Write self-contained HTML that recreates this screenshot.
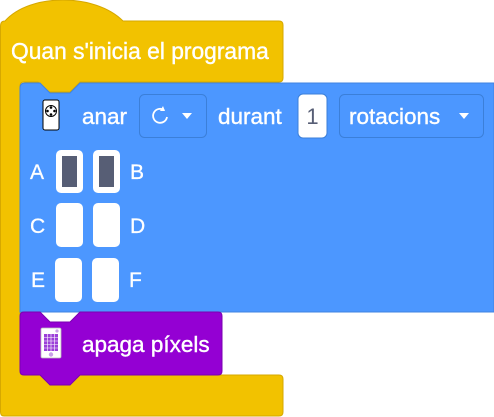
<!DOCTYPE html>
<html><head><meta charset="utf-8"><style>
html,body{margin:0;padding:0;background:#fff;width:494px;height:417px;overflow:hidden}
svg text{font-family:"Liberation Sans",sans-serif}
</style></head><body>
<svg width="494" height="417" viewBox="0 0 494 417" xmlns="http://www.w3.org/2000/svg">
<path d="M0.5 26 Q0.5 21 5 21 C30 -7 95 -7 123 21 L279 21 Q283 21 283 25 L283 78 Q283 82 279 82 L80 82 L70 92 L48 92 L38 82 L24 82 Q20 82 20 86 L20 372 Q20 375 24 375 L279 375 Q283 375 283 379 L283 412 Q283 416 279 416 L4 416 Q0.5 416 0.5 412 Z" fill="#f2c200" stroke="#d6a800" stroke-width="1"/>
<text x="11" y="59" font-size="22.8" fill="#fff" stroke="#fff" stroke-width="0.4">Quan s'inicia el programa</text>
<path d="M20 88 Q20 83 25 83 L40 83 L50 93 L70 93 L80 83 L494 83 L494 312 L20 312 Z" fill="#4c97ff" stroke="#3f83e0" stroke-width="1"/>
<rect x="43" y="100" width="16" height="30" rx="2" fill="#fff" stroke="#000" stroke-width="1"/>
<circle cx="51" cy="111" r="5.5" fill="#fff" stroke="#000" stroke-width="1"/>
<circle cx="51" cy="107.5" r="1.3"/><circle cx="51" cy="114.5" r="1.3"/><circle cx="47.5" cy="111" r="1.3"/><circle cx="54.5" cy="111" r="1.3"/>
<g font-size="22.5" fill="#fff" stroke="#fff" stroke-width="0.4">
<text x="82" y="124">anar</text>
<text x="218" y="124">durant</text>
<text x="349" y="124">rotacions</text>
</g>
<rect x="139.5" y="94.5" width="67" height="43" rx="5" fill="none" stroke="#3b7fd9" stroke-width="1"/>
<path d="M164 110 A7 7 0 1 0 167 117" fill="none" stroke="#fff" stroke-width="1.8"/>
<path d="M163 106 L165 111 L160 111 Z" fill="#fff"/>
<path d="M182 113 L192 113 L187 119 Z" fill="#fff"/>
<rect x="298" y="94" width="29" height="44" rx="5" fill="#fff" stroke="#3b7fd9"/>
<text x="312.5" y="124" font-size="22" fill="#575e75" text-anchor="middle">1</text>
<rect x="339.5" y="94.5" width="144" height="43" rx="5" fill="none" stroke="#3b7fd9" stroke-width="1"/>
<path d="M459 113 L469 113 L464 119 Z" fill="#fff"/>
<g font-size="21" fill="#fff" stroke="#fff" stroke-width="0.3">
<text x="30" y="179">A</text><text x="130" y="179">B</text>
<text x="30" y="233">C</text><text x="130" y="233">D</text>
<text x="31" y="287">E</text><text x="129" y="287">F</text>
</g>
<rect x="56" y="150" width="27" height="43" rx="5" fill="#fff"/>
<rect x="62" y="156" width="15" height="31" fill="#575e75"/>
<rect x="93" y="150" width="27" height="43" rx="5" fill="#fff"/>
<rect x="99" y="156" width="15" height="31" fill="#575e75"/>
<rect x="56" y="203" width="27" height="44" rx="5" fill="#fff"/>
<rect x="93" y="203" width="27" height="44" rx="5" fill="#fff"/>
<rect x="55" y="258" width="27" height="44" rx="5" fill="#fff"/>
<rect x="92" y="258" width="27" height="44" rx="5" fill="#fff"/>
<path d="M20 316 Q20 312 24 312 L40 312 L50 322 L70 322 L80 312 L218 312 Q222 312 222 316 L222 371 Q222 375 218 375 L80 375 L70 385 L50 385 L40 375 L24 375 Q20 375 20 371 Z" fill="#9400d3" stroke="#7a00b0" stroke-width="1"/>
<rect x="41" y="328" width="20" height="30" rx="1.5" fill="#fff" stroke="#bbb" stroke-width="0.8"/>
<rect x="44" y="334" width="14" height="17" fill="#9b3fd8"/>
<g stroke="#fff" stroke-width="0.6"><path d="M44 337.5H58M44 341H58M44 344.5H58M44 348H58M47.5 334V351M51 334V351M54.5 334V351"/></g>
<circle cx="57" cy="331" r="1.6" fill="#c9a0e8"/><circle cx="51" cy="354.5" r="2.2" fill="#c9a0e8"/>
<text x="82" y="352" font-size="22.5" fill="#fff" stroke="#fff" stroke-width="0.4">apaga píxels</text>
</svg>
</body></html>
